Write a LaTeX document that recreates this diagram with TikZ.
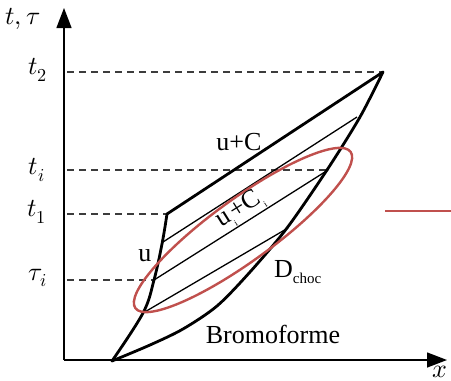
\documentclass[tikz,border=0pt]{standalone}
\usepackage{fontspec}
\usepackage{unicode-math}
\setmainfont{Liberation Serif}
\setmathfont{Latin Modern Math}
\usetikzlibrary{arrows.meta}
\definecolor{ellred}{RGB}{192,80,77}
\definecolor{dashgray}{RGB}{60,60,60}
\tikzset{
  axisline/.style={line width=1.4pt, -{Triangle[length=20pt,width=15pt]}},
  thickline/.style={line width=2.8pt, line join=round, line cap=round},
  thinline/.style={line width=1.3pt},
  dashline/.style={line width=1.4pt, dashgray, dash pattern=on 7pt off 5pt},
  redline/.style={line width=2.4pt, ellred},
  mathlbl/.style={font=\fontsize{26}{30}\selectfont, inner sep=0pt},
  txtlbl/.style={font=\fontsize{26}{30}\selectfont, inner sep=0pt}
}
\begin{document}
\begin{tikzpicture}[x=1pt,y=-1pt]
\useasboundingbox (0,0) rectangle (451,381);
% key points
\coordinate (O) at (64,360);
\coordinate (ytip) at (64,8);
\coordinate (xtip) at (447,360);
\coordinate (B) at (112,361);
\coordinate (P1) at (167,214);
\coordinate (P2) at (383,72);
\coordinate (L1) at (163,242);
\coordinate (R1) at (357,117);
\coordinate (L2) at (154,280);
\coordinate (R2) at (328,170);
\coordinate (L3) at (143,313);
\coordinate (R3) at (288,228);
\coordinate (a2) at (67,72);
\coordinate (ai) at (67,170);
\coordinate (a1) at (67,214);
\coordinate (at) at (67,280);
\coordinate (lg1) at (385,211);
\coordinate (lg2) at (451,211);
% axes
\draw[axisline] (O) -- (ytip);
\draw[axisline] (O) -- (xtip);
% dashed levels
\draw[dashline] (a2) -- (P2);
\draw[dashline] (ai) -- (R2);
\draw[dashline] (a1) -- (P1);
\draw[dashline] (at) -- (L2);
% thin characteristics
\draw[thinline] (L1) -- (R1);
\draw[thinline] (L2) -- (R2);
\draw[thinline] (L3) -- (R3);
% thick curves
\draw[thickline] plot[smooth, tension=0.6] coordinates {(112,361) (143,313) (154,280) (162,244) (167,214)};
\draw[thickline] (P1) -- (P2);
\draw[thickline] plot[smooth, tension=0.5] coordinates {(112,361) (150,345) (183,329) (217,306) (250,272) (287,228) (327,170) (360,117) (383,72)};
% red ellipse
\draw[redline, rotate around={36:(243,230)}] (243,230) ellipse [x radius=133pt, y radius=31pt];
\draw[redline] (lg1) -- (lg2);
% labels
\node[mathlbl] (tt) at (23,19) {$t,\tau$};
\node[mathlbl] (t2) at (38,70) {$t_2$};
\node[mathlbl] (ti) at (37,170) {$t_i$};
\node[mathlbl] (t1) at (37,212) {$t_1$};
\node[mathlbl] (taui) at (38,278) {$\tau_i$};
\node[mathlbl] (xl) at (440,372) {$x$};
\node[txtlbl] (uc) at (239,142) {u+C};
\node[txtlbl] (ul) at (145,256) {u};
\node[txtlbl, anchor=south, rotate=32] (uci) at (247,220) {u\textsubscript{\fontsize{9}{10}\selectfont i}+C\textsubscript{\fontsize{9}{10}\selectfont i}};
\node[txtlbl, anchor=base west] (dc) at (274,277) {D\textsubscript{\fontsize{15}{17}\selectfont choc}};
\node[txtlbl, anchor=base] (bro) at (273,343) {Bromoforme};
\end{tikzpicture}
\end{document}
